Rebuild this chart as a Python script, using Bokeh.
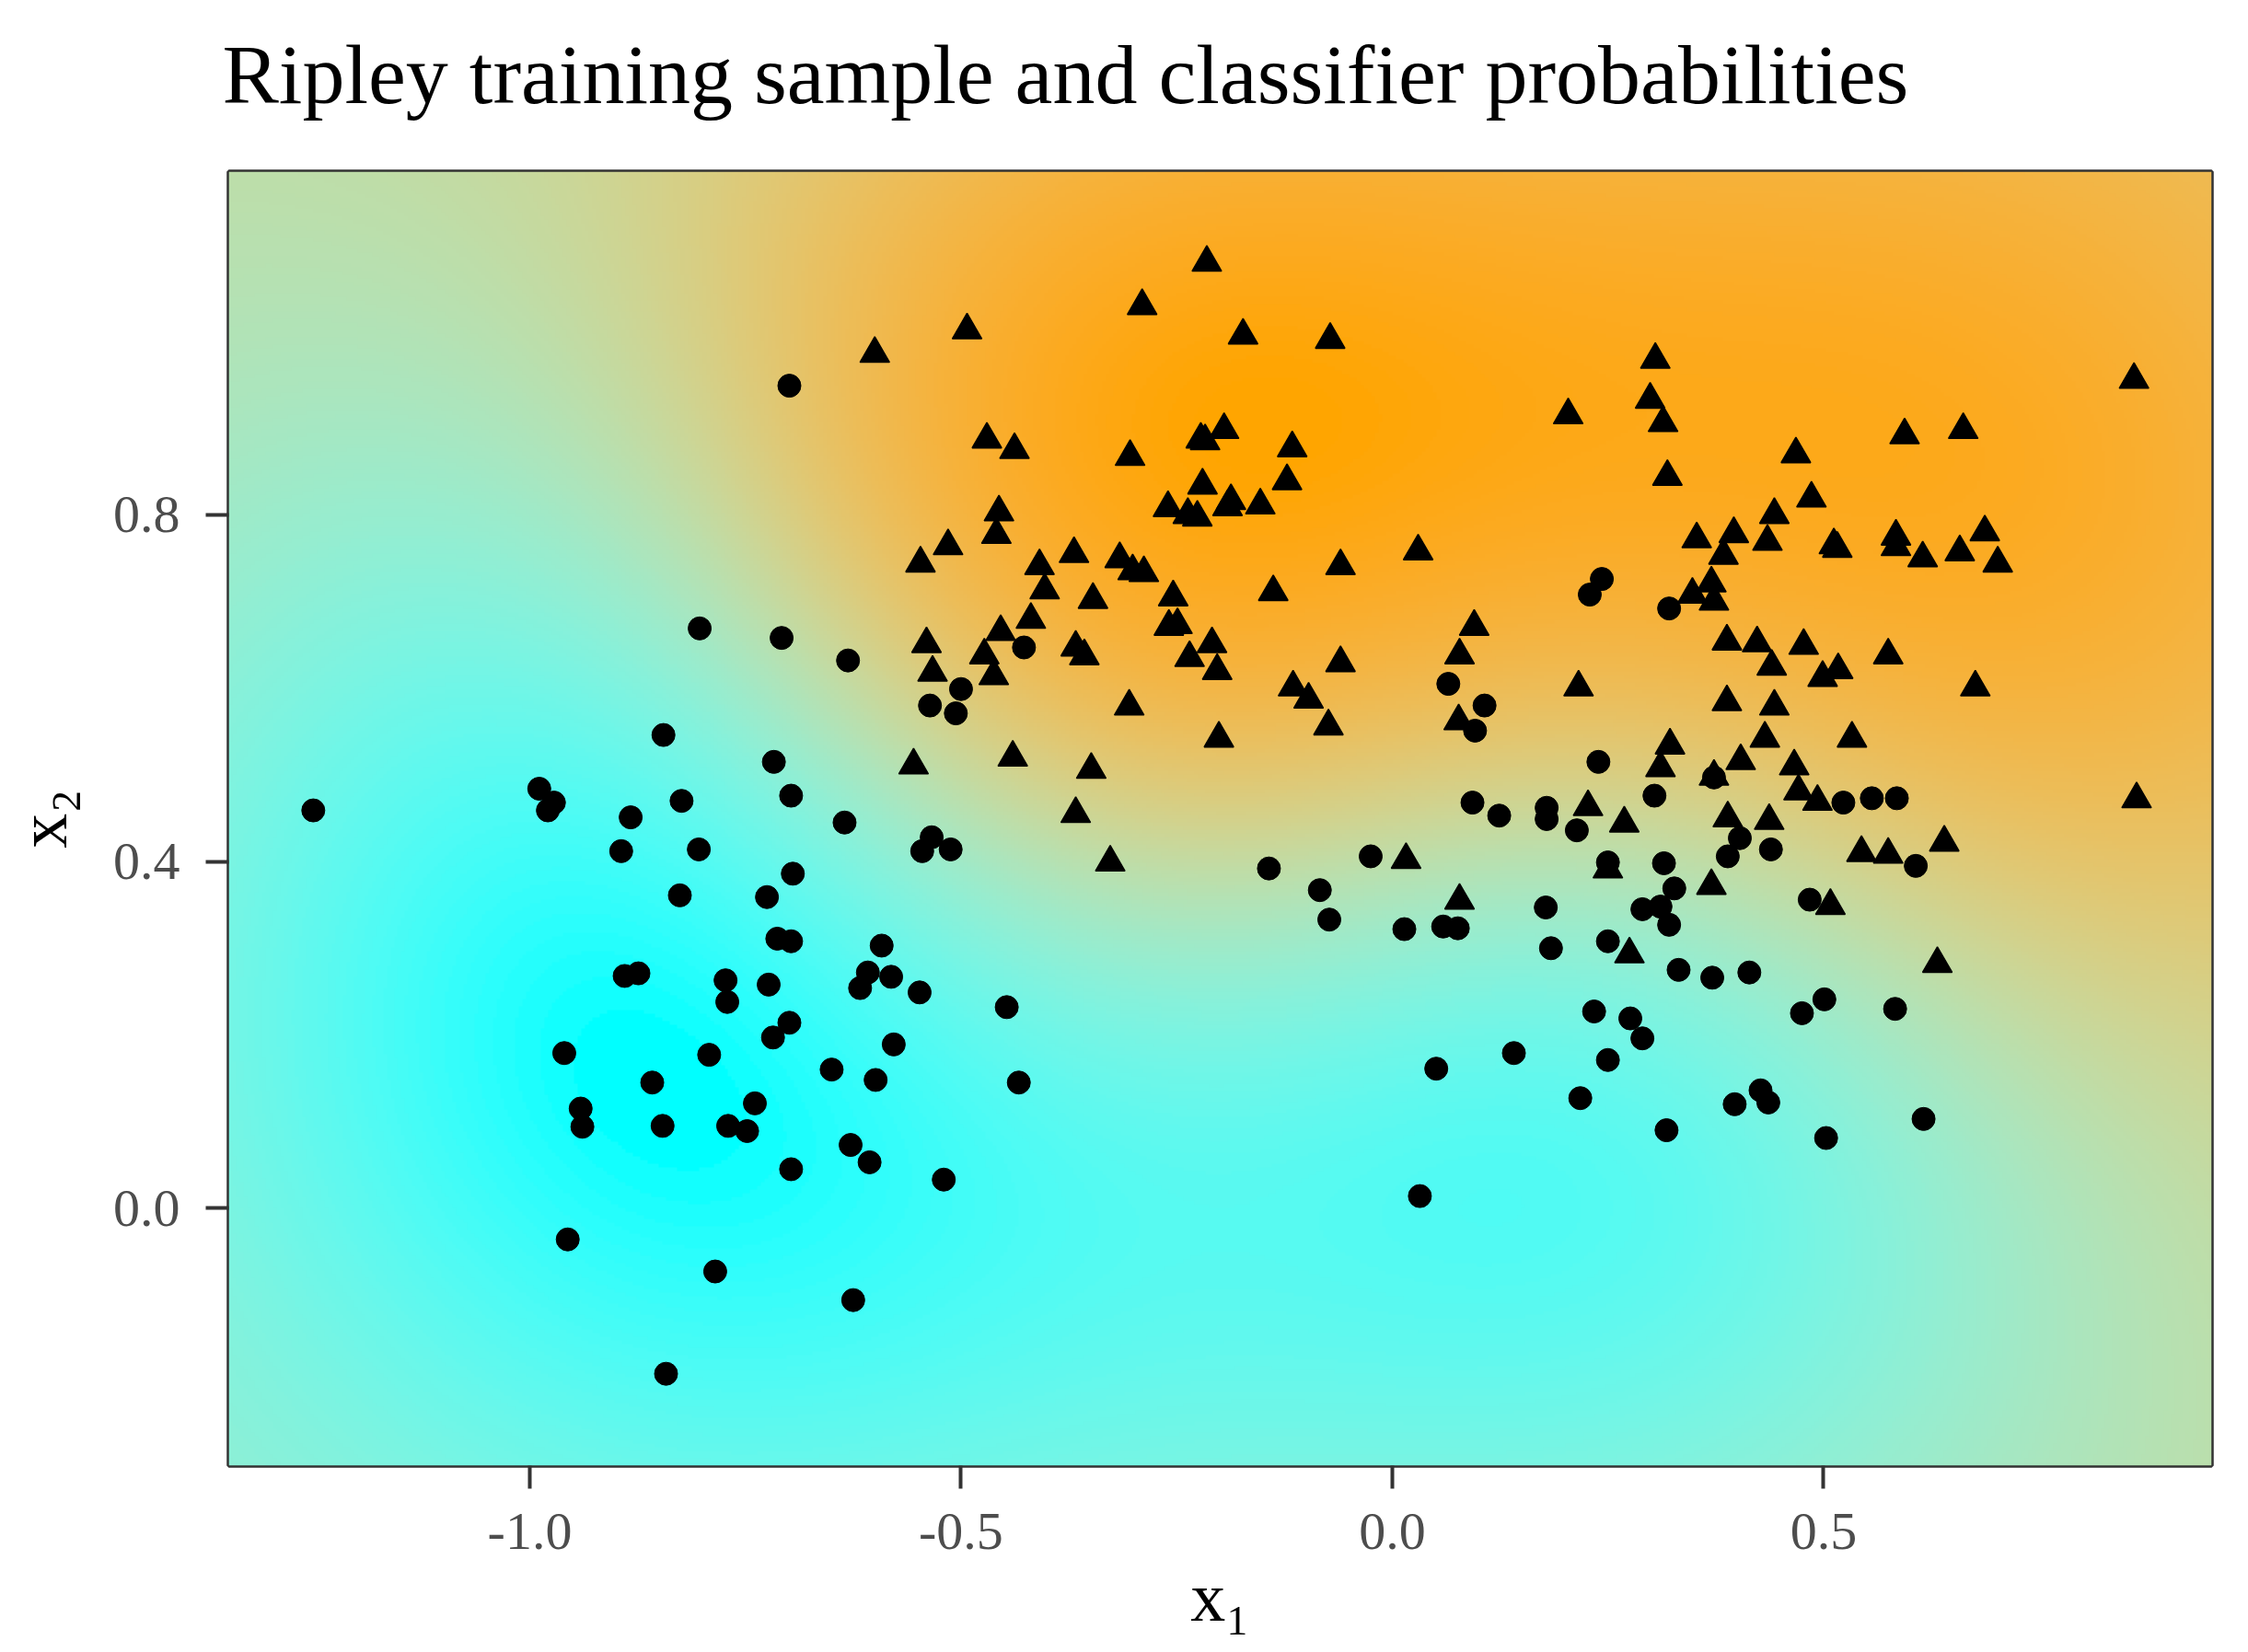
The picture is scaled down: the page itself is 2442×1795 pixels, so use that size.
import numpy as np
from bokeh.plotting import figure
from bokeh.models import Range1d, FixedTicker, PrintfTickFormatter, LinearColorMapper
from bokeh.embed import file_html
from bokeh.resources import INLINE

# ---------------- data ----------------
# class 0 (circles)
x_class0 = [-0.699, -0.803, -0.708, -0.631, -0.845, -0.717, -1.251, -0.989, -0.972, -0.979,
            -0.824, -0.697, -0.635, -0.883, -0.894, -0.804, -0.695, -0.826, -0.725, -0.713,
            -0.697, -0.592, -0.890, -0.874, -0.773, -0.771, -0.723, -0.617, -0.608, -0.581,
            -0.699, -0.718, -0.960, -0.792, -0.650, -0.599, -0.858, -0.739, -0.941, -0.939,
            -0.846, -0.770, -0.748, -0.628, -0.606, -0.697, -0.956, -0.785, -0.625, -0.842,
            -0.578, -0.427, -0.500, -0.536, -0.506, 0.065, 0.107, 0.096, 0.093, 0.124,
            0.179, 0.179, -0.143, -0.084, -0.073, -0.025, 0.014, 0.059, 0.076, 0.178,
            0.184, -0.534, -0.545, -0.512, -0.548, -0.447, -0.433, -0.520, 0.051, 0.141,
            0.032, 0.290, 0.250, 0.218, 0.318, 0.397, 0.427, 0.436, 0.503, 0.616,
            0.243, 0.229, 0.321, 0.373, 0.250, 0.484, 0.239, 0.304, 0.214, 0.403,
            0.389, 0.439, 0.523, 0.556, 0.585, 0.607, 0.315, 0.327, 0.290, 0.311,
            0.321, 0.250, 0.332, 0.371, 0.414, 0.234, 0.276, 0.475, 0.501, 0.583]
y_class0 = [0.949, 0.669, 0.658, 0.632, 0.546, 0.515, 0.459, 0.484, 0.468, 0.459,
            0.470, 0.476, 0.445, 0.451, 0.412, 0.414, 0.386, 0.361, 0.359, 0.311,
            0.308, 0.303, 0.268, 0.271, 0.263, 0.238, 0.258, 0.254, 0.272, 0.267,
            0.214, 0.197, 0.179, 0.177, 0.160, 0.148, 0.145, 0.121, 0.115, 0.094,
            0.095, 0.095, 0.089, 0.073, 0.053, 0.045, -0.036, -0.073, -0.106, -0.191,
            0.189, 0.647, 0.599, 0.580, 0.571, 0.605, 0.580, 0.551, 0.468, 0.453,
            0.462, 0.449, 0.392, 0.367, 0.333, 0.406, 0.322, 0.325, 0.323, 0.347,
            0.300, 0.428, 0.412, 0.414, 0.249, 0.232, 0.145, 0.033, 0.161, 0.179,
            0.014, 0.196, 0.171, 0.127, 0.090, 0.120, 0.136, 0.122, 0.081, 0.103,
            0.726, 0.708, 0.692, 0.497, 0.399, 0.356, 0.515, 0.476, 0.436, 0.427,
            0.406, 0.414, 0.468, 0.473, 0.473, 0.395, 0.398, 0.369, 0.345, 0.348,
            0.327, 0.308, 0.275, 0.266, 0.272, 0.227, 0.219, 0.225, 0.241, 0.230]
# class 1 (triangles)
x_class1 = [-0.600, -0.215, -0.290, -0.493, -0.173, -0.072, -0.470, -0.438, -0.304, -0.222,
            -0.217, -0.195, -0.116, -0.220, -0.122, -0.260, -0.237, -0.226, -0.187, -0.191,
            -0.153, -0.456, -0.459, -0.515, -0.547, -0.409, -0.403, -0.369, -0.316, -0.301,
            -0.288, -0.347, -0.254, -0.138, -0.060, 0.030, -0.419, -0.540, -0.454, -0.473,
            -0.462, -0.533, -0.367, -0.357, -0.259, -0.249, -0.209, -0.235, -0.203, -0.060,
            -0.115, -0.097, -0.074, -0.305, -0.201, -0.555, -0.440, -0.349, -0.367, -0.327,
            0.095, 0.078, 0.077, 0.016, 0.078, 0.305, 0.860, 0.299, 0.314, 0.204,
            0.594, 0.662, 0.468, 0.319, 0.486, 0.443, 0.353, 0.396, 0.435, 0.384,
            0.512, 0.516, 0.584, 0.584, 0.615, 0.658, 0.687, 0.702, 0.348, 0.370,
            0.373, 0.388, 0.423, 0.440, 0.477, 0.499, 0.517, 0.575, 0.676, 0.216,
            0.388, 0.443, 0.432, 0.533, 0.322, 0.311, 0.404, 0.466, 0.373, 0.227,
            0.269, 0.471, 0.493, 0.389, 0.437, 0.544, 0.575, 0.640, 0.863, 0.250,
            0.370, 0.508, 0.275, 0.632]
y_class1 = [0.986, 1.091, 1.041, 1.013, 1.007, 1.002, 0.887, 0.875, 0.867, 0.887,
            0.885, 0.898, 0.877, 0.834, 0.839, 0.808, 0.800, 0.797, 0.816, 0.809,
            0.811, 0.803, 0.777, 0.764, 0.744, 0.741, 0.713, 0.755, 0.749, 0.735,
            0.733, 0.702, 0.705, 0.711, 0.741, 0.758, 0.679, 0.651, 0.665, 0.638,
            0.614, 0.618, 0.647, 0.637, 0.671, 0.673, 0.651, 0.635, 0.620, 0.629,
            0.601, 0.587, 0.556, 0.579, 0.542, 0.511, 0.520, 0.506, 0.455, 0.399,
            0.671, 0.638, 0.562, 0.402, 0.355, 0.979, 0.956, 0.933, 0.906, 0.915,
            0.892, 0.898, 0.870, 0.844, 0.819, 0.800, 0.772, 0.778, 0.769, 0.753,
            0.765, 0.761, 0.775, 0.763, 0.750, 0.757, 0.780, 0.744, 0.708, 0.721,
            0.700, 0.654, 0.652, 0.625, 0.649, 0.612, 0.621, 0.638, 0.601, 0.601,
            0.584, 0.579, 0.542, 0.542, 0.534, 0.508, 0.516, 0.510, 0.498, 0.463,
            0.444, 0.481, 0.469, 0.450, 0.447, 0.410, 0.408, 0.422, 0.472, 0.391,
            0.372, 0.349, 0.293, 0.282]

x_limits = [-1.349, 0.950]
y_limits = [-0.297, 1.196]
x_ticks = [-1.0, -0.5, 0.0, 0.5]
y_ticks = [0.0, 0.4, 0.8]
title_text = "Ripley training sample and classifier probabilities"
low_colour = "#00FFFF"   # cyan
high_colour = "#FFA500"  # orange

# ------------- classifier: ridge logistic regression on linear + RBF features -------------
rbf_cx = np.array([-1.2, -0.9, -0.6, -0.3, 0.0, 0.3, 0.6, 0.9])
rbf_cy = np.array([-0.2, 0.1, 0.4, 0.7, 1.0])
rbf_width = 0.3
ridge_rbf = 6.0
ridge_linear = 15.0
CX, CY = [a.ravel() for a in np.meshgrid(rbf_cx, rbf_cy)]


def features(xs, ys):
    xs = np.asarray(xs, float).ravel()
    ys = np.asarray(ys, float).ravel()
    rbf = np.exp(-((xs[:, None] - CX[None, :]) ** 2 + (ys[:, None] - CY[None, :]) ** 2)
                 / (2 * rbf_width ** 2))
    return np.column_stack([np.ones_like(xs), xs, ys, rbf])


X_train = features(x_class0 + x_class1, y_class0 + y_class1)
t_train = np.array([0.0] * len(x_class0) + [1.0] * len(x_class1))
w = np.zeros(X_train.shape[1])
pen = np.full(X_train.shape[1], ridge_rbf)
pen[0] = 0.0
pen[1:3] = ridge_linear
for _ in range(100):
    mu = 1 / (1 + np.exp(-X_train @ w))
    grad = X_train.T @ (t_train - mu) - pen * w
    hess = (X_train * (mu * (1 - mu))[:, None]).T @ X_train + np.diag(pen)
    step = np.linalg.solve(hess, grad)
    w += step
    if np.max(np.abs(step)) < 1e-9:
        break

nx, ny = 540, 352
gx = np.linspace(x_limits[0], x_limits[1], nx)
gy = np.linspace(y_limits[0], y_limits[1], ny)
GX, GY = np.meshgrid(gx, gy)
prob = (1 / (1 + np.exp(-features(GX, GY) @ w))).reshape(ny, nx)

# ------------- gradient palette interpolated in CIELAB (like ggplot2) -------------
M = np.array([[0.4124564, 0.3575761, 0.1804375],
              [0.2126729, 0.7151522, 0.0721750],
              [0.0193339, 0.1191920, 0.9503041]])
WHITE = np.array([0.95047, 1.0, 1.08883])
D = 6 / 29


def hex_to_rgb(h):
    h = h.lstrip("#")
    return np.array([int(h[i:i + 2], 16) for i in (0, 2, 4)], float)


def to_lin(c):
    c = c / 255.0
    return np.where(c <= 0.04045, c / 12.92, ((c + 0.055) / 1.055) ** 2.4)


def from_lin(c):
    c = np.clip(c, 0, 1)
    return np.where(c <= 0.0031308, 12.92 * c, 1.055 * c ** (1 / 2.4) - 0.055) * 255


def f_lab(t):
    return np.where(t > D ** 3, np.cbrt(t), t / (3 * D * D) + 4 / 29)


def f_inv(t):
    return np.where(t > D, t ** 3, 3 * D * D * (t - 4 / 29))


def rgb_to_lab(rgb):
    xyz = M @ to_lin(rgb) / WHITE
    fx, fy, fz = f_lab(xyz)
    return np.array([116 * fy - 16, 500 * (fx - fy), 200 * (fy - fz)])


MINV = np.linalg.inv(M)


def lab_to_hex(lab):
    L, A, B = lab
    fy = (L + 16) / 116
    fx = fy + A / 500
    fz = fy - B / 200
    xyz = np.array([f_inv(fx), f_inv(fy), f_inv(fz)]) * WHITE
    rgb = from_lin(MINV @ xyz)
    r, g, b = [int(round(float(v))) for v in rgb]
    return "#%02x%02x%02x" % (r, g, b)


lab_lo = rgb_to_lab(hex_to_rgb(low_colour))
lab_hi = rgb_to_lab(hex_to_rgb(high_colour))
palette = [lab_to_hex(lab_lo + (lab_hi - lab_lo) * t) for t in np.linspace(0, 1, 256)]
mapper = LinearColorMapper(palette=palette, low=float(prob.min()), high=float(prob.max()))

# ---------------- figure ----------------
# the canvas is shifted up 30 px so the title can sit higher above the panel
shift = 30
p = figure(width=2426, height=1779 + shift,
           x_range=Range1d(*x_limits), y_range=Range1d(*y_limits),
           output_backend="svg", toolbar_location=None,
           min_border_left=244, min_border_right=24,
           min_border_top=186 + shift, min_border_bottom=186)
p.margin = (-shift, 0, 0, 0)
p.background_fill_color = "white"
p.border_fill_color = "white"

p.image(image=[prob], x=x_limits[0], y=y_limits[0],
        dw=x_limits[1] - x_limits[0], dh=y_limits[1] - y_limits[0],
        color_mapper=mapper)
p.scatter(x_class0, y_class0, marker="circle", size=25, fill_color="black",
          line_color="black", line_width=1)
p.scatter(x_class1, y_class1, marker="triangle", size=32, fill_color="black",
          line_color="black", line_width=1.5)

p.grid.visible = False
p.outline_line_color = "#333333"
p.outline_line_width = 4.5

p.title.text = title_text
p.title.text_font = "Liberation Serif"
p.title.text_font_size = "92px"
p.title.text_font_style = "normal"
p.title.text_color = "black"
p.title.align = "left"
p.title.offset = -7
p.title.standoff = 110

for ax in (p.xaxis[0], p.yaxis[0]):
    ax.axis_line_color = None
    ax.major_tick_line_color = "#333333"
    ax.major_tick_line_width = 4
    ax.major_tick_out = 25
    ax.major_tick_in = 0
    ax.minor_tick_line_color = None
    ax.major_label_text_font = "Liberation Serif"
    ax.major_label_text_font_size = "58px"
    ax.major_label_text_color = "#4d4d4d"
    ax.axis_label_text_font = "Liberation Serif"
    ax.axis_label_text_font_size = "76px"
    ax.axis_label_text_font_style = "normal"
    ax.axis_label_text_color = "black"
    ax.formatter = PrintfTickFormatter(format="%.1f")

p.xaxis.ticker = FixedTicker(ticks=x_ticks)
p.yaxis.ticker = FixedTicker(ticks=y_ticks)
p.xaxis.axis_label = "x\u2081"
p.yaxis.axis_label = "x\u2082"
p.xaxis.major_label_standoff = 27
p.yaxis.major_label_standoff = 28
p.xaxis.axis_label_standoff = 7
p.yaxis.axis_label_standoff = 32

open("out.html", "w").write(file_html(p, INLINE))
